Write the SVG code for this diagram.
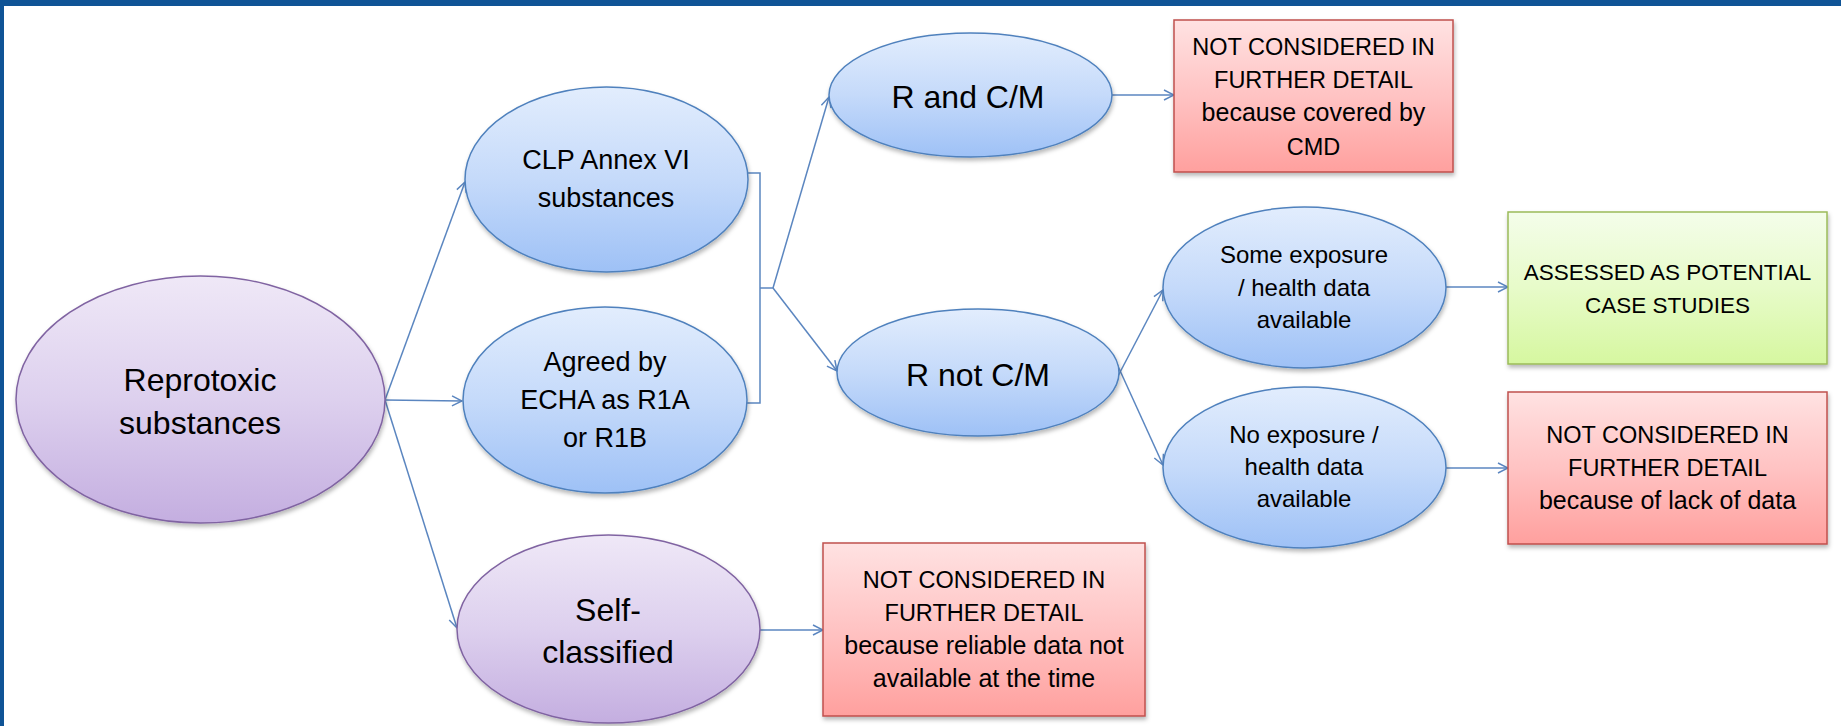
<svg xmlns="http://www.w3.org/2000/svg" width="1841" height="726" viewBox="0 0 1841 726">
<defs>
<linearGradient id="gPurple" x1="0" y1="0" x2="0" y2="1">
<stop offset="0" stop-color="#EFE8F7"/><stop offset="0.5" stop-color="#DDD0EE"/><stop offset="1" stop-color="#C4AEE0"/>
</linearGradient>
<linearGradient id="gBlue" x1="0" y1="0" x2="0" y2="1">
<stop offset="0" stop-color="#E2EDFD"/><stop offset="0.5" stop-color="#C5DAFA"/><stop offset="1" stop-color="#9EC1F6"/>
</linearGradient>
<linearGradient id="gRed" x1="0" y1="0" x2="0" y2="1">
<stop offset="0" stop-color="#FFE2E2"/><stop offset="0.5" stop-color="#FFC3C3"/><stop offset="1" stop-color="#FFA09E"/>
</linearGradient>
<linearGradient id="gGreen" x1="0" y1="0" x2="0" y2="1">
<stop offset="0" stop-color="#F4FDEA"/><stop offset="0.5" stop-color="#E7FBC9"/><stop offset="1" stop-color="#D6F7A0"/>
</linearGradient>
<filter id="sh" x="-10%" y="-10%" width="120%" height="130%">
<feDropShadow dx="1" dy="3" stdDeviation="2" flood-color="#000" flood-opacity="0.28"/>
</filter>
<marker id="arr" viewBox="0 0 12 12" refX="11" refY="6" markerWidth="12" markerHeight="12" markerUnits="userSpaceOnUse" orient="auto">
<path d="M1,1 L11,6 L1,11" fill="none" stroke="#5B86C0" stroke-width="1.5"/>
</marker>
</defs>
<style>
.purple{fill:url(#gPurple);stroke:#8064A2;stroke-width:1.5;filter:url(#sh)}
.blue{fill:url(#gBlue);stroke:#4F81BD;stroke-width:1.5;filter:url(#sh)}
.red{fill:url(#gRed);stroke:#C0504D;stroke-width:1.5;filter:url(#sh)}
.green{fill:url(#gGreen);stroke:#9BBB59;stroke-width:1.5;filter:url(#sh)}
text{font-family:"Liberation Sans",Arial,sans-serif;fill:#000;text-anchor:middle}
.t32{font-size:32px}
.t27{font-size:27px}
.t24{font-size:24px}
.tc{font-size:23.5px}
.tl{font-size:25px}
.tg{font-size:22.5px}
.c{fill:none;stroke:#5B86C0;stroke-width:1.5}
.ca{fill:none;stroke:#5B86C0;stroke-width:1.5;marker-end:url(#arr)}
</style>
<rect x="0" y="0" width="1841" height="726" fill="#FFFFFF"/>
<rect x="0" y="0" width="1841" height="6" fill="#0F5496"/>
<rect x="0" y="0" width="4" height="726" fill="#0F5496"/>

<g id="connectors">
<line class="ca" x1="385" y1="400" x2="465" y2="182"/>
<line class="ca" x1="385" y1="400" x2="462" y2="401"/>
<line class="ca" x1="385" y1="400" x2="457" y2="628"/>
<path class="c" d="M748,173 H760 V403 H747"/>
<path class="c" d="M760,288 H773"/>
<line class="ca" x1="773" y1="288" x2="829" y2="97"/>
<line class="ca" x1="773" y1="288" x2="837" y2="371"/>
<line class="ca" x1="1112" y1="95" x2="1174" y2="95"/>
<line class="ca" x1="1117" y1="378" x2="1163" y2="290"/>
<line class="ca" x1="1117" y1="364" x2="1163" y2="465"/>
<line class="ca" x1="1446" y1="287" x2="1508" y2="287"/>
<line class="ca" x1="1446" y1="468" x2="1508" y2="468"/>
<line class="ca" x1="760" y1="630" x2="823" y2="630"/>
</g>

<g id="reprotoxic">
<ellipse class="purple" cx="200.5" cy="399.5" rx="184.5" ry="123.5"/>
<text class="t32" x="200" y="391">Reprotoxic</text>
<text class="t32" x="200" y="434">substances</text>
</g>

<g id="clp">
<ellipse class="blue" cx="606.5" cy="179.5" rx="141.5" ry="92.5"/>
<text class="t27" x="606" y="169">CLP Annex VI</text>
<text class="t27" x="606" y="207">substances</text>
</g>

<g id="agreed">
<ellipse class="blue" cx="605" cy="400" rx="142" ry="93"/>
<text class="t27" x="605" y="371">Agreed by</text>
<text class="t27" x="605" y="409">ECHA as R1A</text>
<text class="t27" x="605" y="447">or R1B</text>
</g>

<g id="self">
<ellipse class="purple" cx="608.5" cy="629" rx="151.5" ry="94"/>
<text class="t32" x="608" y="621">Self-</text>
<text class="t32" x="608" y="663">classified</text>
</g>

<g id="randcm">
<ellipse class="blue" cx="970.5" cy="95" rx="141.5" ry="62"/>
<text class="t32" x="968" y="108">R and C/M</text>
</g>

<g id="rnotcm">
<ellipse class="blue" cx="978" cy="372.5" rx="141" ry="63.5"/>
<text class="t32" x="978" y="386">R not C/M</text>
</g>

<g id="some">
<ellipse class="blue" cx="1304.5" cy="287.5" rx="141.5" ry="80.5"/>
<text class="t24" x="1304" y="263">Some exposure</text>
<text class="t24" x="1304" y="296">/ health data</text>
<text class="t24" x="1304" y="328">available</text>
</g>

<g id="noexp">
<ellipse class="blue" cx="1304.5" cy="467.5" rx="141.5" ry="80.5"/>
<text class="t24" x="1304" y="443">No exposure /</text>
<text class="t24" x="1304" y="475">health data</text>
<text class="t24" x="1304" y="507">available</text>
</g>

<g id="box-cmd">
<rect class="red" x="1174" y="20" width="279" height="152"/>
<text class="tc" x="1313.5" y="55">NOT CONSIDERED IN</text>
<text class="tc" x="1313.5" y="88">FURTHER DETAIL</text>
<text class="tl" x="1313.5" y="121">because covered by</text>
<text class="tc" x="1313.5" y="155">CMD</text>
</g>

<g id="box-self">
<rect class="red" x="823" y="543" width="322" height="173"/>
<text class="tc" x="984" y="588">NOT CONSIDERED IN</text>
<text class="tc" x="984" y="621">FURTHER DETAIL</text>
<text class="tl" x="984" y="654">because reliable data not</text>
<text class="tl" x="984" y="687">available at the time</text>
</g>

<g id="box-assessed">
<rect class="green" x="1508" y="212" width="319" height="152"/>
<text class="tg" x="1667.5" y="280">ASSESSED AS POTENTIAL</text>
<text class="tg" x="1667.5" y="313">CASE STUDIES</text>
</g>

<g id="box-lack">
<rect class="red" x="1508" y="392" width="319" height="152"/>
<text class="tc" x="1667.5" y="443">NOT CONSIDERED IN</text>
<text class="tc" x="1667.5" y="476">FURTHER DETAIL</text>
<text class="tl" x="1667.5" y="509">because of lack of data</text>
</g>
</svg>
